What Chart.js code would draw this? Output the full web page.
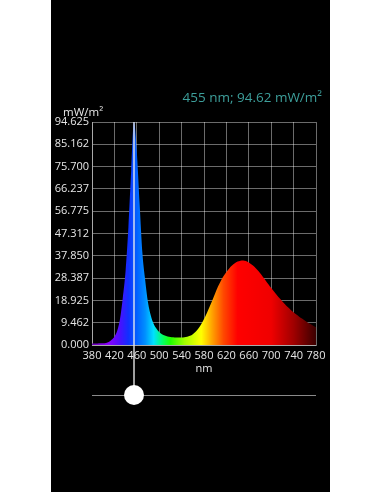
<!DOCTYPE html>
<html>
<head>
<meta charset="utf-8">
<script src="https://cdn.jsdelivr.net/npm/chart.js@4.4.0/dist/chart.umd.min.js"></script>
<style>
  html, body { margin: 0; padding: 0; background: #fff; }
  #panel { position: absolute; left: 51px; top: 0; width: 279px; height: 492px; background: #000; }
  #chart { display: block; }
</style>
</head>
<body>
<div id="panel"><canvas id="chart" width="279" height="492"></canvas></div>
<script>
// spectrum, every 5 nm
var wavelengths = [380,385,390,395,400,405,410,415,420,425,430,435,440,445,450,455,460,465,470,475,
  480,485,490,495,500,505,510,515,520,525,530,535,540,545,550,555,560,565,570,575,
  580,585,590,595,600,605,610,615,620,625,630,635,640,645,650,655,660,665,670,675,
  680,685,690,695,700,705,710,715,720,725,730,735,740,745,750,755,760,765,770,775,780];
var irradiance = [0.6,0.6,0.6,0.7,0.7,0.9,1.3,2.2,3.5,6.0,11.0,20.0,31.5,50.0,74.0,94.6,82.0,60.0,39.0,27.5,
  18.0,12.5,9.0,7.0,5.5,4.6,4.0,3.6,3.4,3.3,3.2,3.2,3.2,3.3,3.5,3.9,4.6,5.6,7.0,8.8,
  11.0,13.5,16.2,19.0,22.0,24.8,27.2,29.3,31.0,32.5,33.7,34.7,35.4,35.8,35.9,35.6,35.0,34.2,33.2,31.9,
  30.5,29.0,27.4,25.8,24.2,22.7,21.2,19.8,18.5,17.2,16.0,14.9,13.9,12.9,12.0,11.2,10.4,9.6,8.9,8.2,7.5];
var xTicks = [380,420,460,500,540,580,620,660,700,740,780];
var yTicks = [0,9.4625,18.925,28.3875,37.85,47.3125,56.775,66.2375,75.7,85.1625,94.625];
var yTickLabels = ['0.000','9.462','18.925','28.387','37.850','47.312','56.775','66.237','75.700','85.162','94.625'];
var cursorNm = 455;
var cursorValue = 94.62;

// colour of the fill along the wavelength axis
var stopNm = [380,410,430,445,460,475,490,505,520,545,575,595,615,640,700,740,780];
var stopColor = ['#6a00b0','#8a00ff','#4a10ff','#1030ff','#0060ff','#0090ff','#00e0ff','#00ff70','#20ff00','#a0ff00',
  '#ffff00','#ffa000','#ff4800','#ff0000','#f00000','#a00000','#3a0000'];

var points = [];
for (var i in wavelengths) {
  points.push({x: wavelengths[i], y: irradiance[i]});
}

function spectrumFill(context) {
  var chart = context.chart;
  var area = chart.chartArea;
  if (!area) return '#00f';
  var sx = chart.scales.x;
  var g = chart.ctx.createLinearGradient(area.left, 0, area.right, 0);
  for (var i in stopNm) {
    var p = (sx.getPixelForValue(stopNm[i]) - area.left) / (area.right - area.left);
    g.addColorStop(Math.min(1, Math.max(0, p)), stopColor[i]);
  }
  return g;
}

var extras = {
  id: 'extras',
  afterDatasetsDraw: function(chart) {
    var c = chart.ctx, area = chart.chartArea;
    var px = chart.scales.x.getPixelForValue(cursorNm);
    var sliderY = 395;
    c.save();
    // slider track
    c.strokeStyle = '#8a8a8a';
    c.lineWidth = 1;
    c.beginPath();
    c.moveTo(area.left, sliderY + 0.5);
    c.lineTo(area.right, sliderY + 0.5);
    c.stroke();
    // cursor line
    c.strokeStyle = 'rgba(235,235,235,0.9)';
    c.lineWidth = 1.5;
    c.beginPath();
    c.moveTo(px, area.top);
    c.lineTo(px, sliderY);
    c.stroke();
    // knob
    c.fillStyle = '#fff';
    c.beginPath();
    c.arc(px, sliderY, 10, 0, Math.PI * 2);
    c.fill();
    // texts
    c.textBaseline = 'middle';
    c.fillStyle = '#3d9f9b';
    c.font = '13.5px "Open Sans"';
    c.textAlign = 'right';
    c.fillText(cursorNm + ' nm; ' + cursorValue.toFixed(2) + ' mW/m\u00b2', 271, 98);
    c.fillStyle = '#e6e6e6';
    c.font = '11.5px "Open Sans"';
    c.textAlign = 'left';
    c.fillText('mW/m\u00b2', 12, 113);
    c.restore();
  }
};

var chart = new Chart(document.getElementById('chart'), {
  type: 'line',
  data: {
    datasets: [{
      data: points,
      fill: 'origin',
      backgroundColor: spectrumFill,
      borderWidth: 0,
      pointRadius: 0,
      cubicInterpolationMode: 'monotone'
    }]
  },
  options: {
    responsive: false,
    animation: false,
    events: [],
    layout: { padding: { top: 122, left: 0, right: 14, bottom: 117 } },
    plugins: { legend: { display: false }, tooltip: { enabled: false }, title: { display: false } },
    scales: {
      x: {
        type: 'linear', min: 380, max: 780,
        afterBuildTicks: function(s) { s.ticks = xTicks.map(function(v) { return {value: v}; }); },
        afterFit: function(s) { s.height = 30; },
        grid: { color: 'rgba(255,255,255,0.42)', drawTicks: false },
        border: { color: 'rgba(255,255,255,0.42)' },
        ticks: { color: '#e6e6e6', font: { family: 'Open Sans', size: 11 }, padding: 4, autoSkip: false, maxRotation: 0 },
        title: { display: true, text: 'nm', color: '#e6e6e6', font: { family: 'Open Sans', size: 11 }, padding: 0 }
      },
      y: {
        min: 0, max: 94.625,
        afterBuildTicks: function(s) { s.ticks = yTicks.map(function(v) { return {value: v}; }); },
        afterFit: function(s) { s.width = 41; },
        grid: { color: 'rgba(255,255,255,0.42)', drawTicks: false },
        border: { color: 'rgba(255,255,255,0.42)' },
        ticks: {
          color: '#e6e6e6', font: { family: 'Open Sans', size: 11 }, padding: 3,
          callback: function(v, idx) { return yTickLabels[idx]; }
        }
      }
    }
  },
  plugins: [extras]
});
</script>
</body>
</html>
